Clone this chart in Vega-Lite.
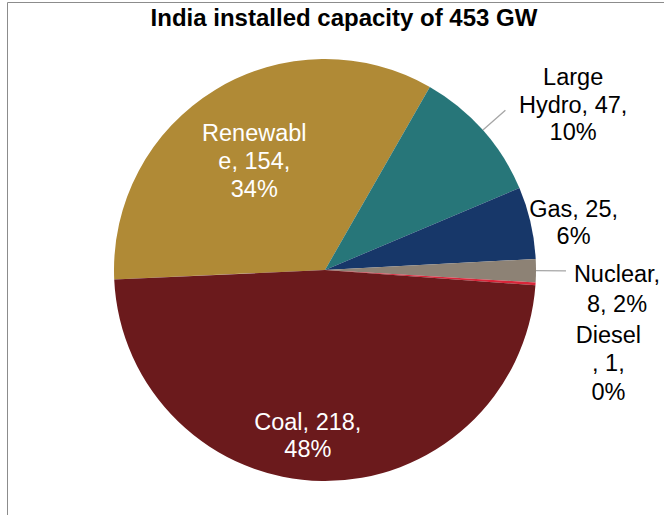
{
  "$schema": "https://vega.github.io/schema/vega-lite/v6.json",
  "autosize": "none",
  "width": 636,
  "height": 490,
  "padding": {"left": 7, "top": 25, "right": 21, "bottom": 0},
  "background": "white",
  "config": {"view": {"stroke": null}, "font": "Liberation Sans"},
  "title": {"text": "India installed capacity of 453 GW", "fontSize": 24, "fontWeight": "bold", "font": "Liberation Sans", "color": "#000000", "anchor": "middle", "baseline": "alphabetic", "offset": -48, "dx": 19},
  "data": {"values": [
    {"cat": "Renewable", "value": 154, "ord": 1, "lab": ["Renewabl", "e, 154,", "34%"]},
    {"cat": "Large Hydro", "value": 47, "ord": 2, "lab": ["Large", "Hydro, 47,", "10%"]},
    {"cat": "Gas", "value": 25, "ord": 3, "lab": ["Gas, 25,", "6%"]},
    {"cat": "Nuclear", "value": 8, "ord": 4, "lab": ["Nuclear,", "8, 2%"]},
    {"cat": "Diesel", "value": 1, "ord": 5, "lab": ["Diesel", ", 1,", "0%"]},
    {"cat": "Coal", "value": 218, "ord": 6, "lab": ["Coal, 218,", "48%"]}
  ]},
  "layer": [
    {
      "mark": {"type": "point", "opacity": 0},
      "encoding": {
        "x": {"field": "value", "type": "quantitative", "scale": {"range": [0, 657]}, "axis": {"orient": "top", "offset": 23, "domainColor": "#8C8C8C", "domainWidth": 1, "ticks": false, "labels": false, "grid": false, "title": null}},
        "y": {"field": "value", "type": "quantitative", "scale": {"range": [490, -23]}, "axis": {"orient": "left", "domainColor": "#8C8C8C", "domainWidth": 1, "ticks": false, "labels": false, "grid": false, "title": null}}
      }
    },
    {
      "mark": {"type": "arc", "outerRadius": 211},
      "encoding": {
        "theta": {"field": "value", "type": "quantitative", "stack": true, "scale": {"range": [-1.616, 4.667]}},
        "order": {"field": "ord", "type": "quantitative"},
        "color": {"field": "cat", "type": "nominal", "legend": null, "scale": {"domain": ["Renewable", "Large Hydro", "Gas", "Nuclear", "Diesel", "Coal"], "range": ["#B08A36", "#277679", "#173769", "#8D8275", "#D9263A", "#6B1A1C"]}}
      }
    },
    {
      "mark": {"type": "arc", "innerRadius": 211, "outerRadius": 241, "padAngle": 1, "fillOpacity": 0, "stroke": "#A6A6A6", "strokeWidth": 1.3},
      "encoding": {
        "theta": {"field": "value", "type": "quantitative", "stack": true},
        "order": {"field": "ord", "type": "quantitative"},
        "strokeOpacity": {"condition": {"test": "datum.cat === 'Large Hydro' || datum.cat === 'Nuclear'", "value": 1}, "value": 0}
      }
    },
    {
      "mark": {"type": "text", "radius": 128, "dx": -4, "dy": -20, "fontSize": 23.5, "lineHeight": 28, "fill": "#FFFFFF", "align": "center", "baseline": "alphabetic"},
      "encoding": {
        "theta": {"field": "value", "type": "quantitative", "stack": true},
        "order": {"field": "ord", "type": "quantitative"},
        "text": {"condition": {"test": "datum.cat === 'Renewable'", "field": "lab", "type": "nominal"}, "value": ""}
      }
    },
    {
      "mark": {"type": "text", "radius": 160, "dx": -15, "dy": 0, "fontSize": 23.5, "lineHeight": 27, "fill": "#FFFFFF", "align": "center", "baseline": "alphabetic"},
      "encoding": {
        "theta": {"field": "value", "type": "quantitative", "stack": true},
        "order": {"field": "ord", "type": "quantitative"},
        "text": {"condition": {"test": "datum.cat === 'Coal'", "field": "lab", "type": "nominal"}, "value": ""}
      }
    },
    {
      "mark": {"type": "text", "radius": 250, "dx": 61, "dy": -19, "fontSize": 23.5, "lineHeight": 27.5, "fill": "#000000", "align": "center", "baseline": "alphabetic"},
      "encoding": {
        "theta": {"field": "value", "type": "quantitative", "stack": true},
        "order": {"field": "ord", "type": "quantitative"},
        "text": {"condition": {"test": "datum.cat === 'Large Hydro'", "field": "lab", "type": "nominal"}, "value": ""}
      }
    },
    {
      "mark": {"type": "text", "radius": 253, "dx": 2, "dy": 4, "fontSize": 23.5, "lineHeight": 26.5, "fill": "#000000", "align": "center", "baseline": "alphabetic"},
      "encoding": {
        "theta": {"field": "value", "type": "quantitative", "stack": true},
        "order": {"field": "ord", "type": "quantitative"},
        "text": {"condition": {"test": "datum.cat === 'Gas'", "field": "lab", "type": "nominal"}, "value": ""}
      }
    },
    {
      "mark": {"type": "text", "radius": 292, "dx": 0, "dy": 11, "fontSize": 23.5, "lineHeight": 30, "fill": "#000000", "align": "center", "baseline": "alphabetic"},
      "encoding": {
        "theta": {"field": "value", "type": "quantitative", "stack": true},
        "order": {"field": "ord", "type": "quantitative"},
        "text": {"condition": {"test": "datum.cat === 'Nuclear'", "field": "lab", "type": "nominal"}, "value": ""}
      }
    },
    {
      "mark": {"type": "text", "radius": 285, "dx": -1, "dy": 54, "fontSize": 23.5, "lineHeight": 28.5, "fill": "#000000", "align": "center", "baseline": "alphabetic"},
      "encoding": {
        "theta": {"field": "value", "type": "quantitative", "stack": true},
        "order": {"field": "ord", "type": "quantitative"},
        "text": {"condition": {"test": "datum.cat === 'Diesel'", "field": "lab", "type": "nominal"}, "value": ""}
      }
    }
  ]
}
